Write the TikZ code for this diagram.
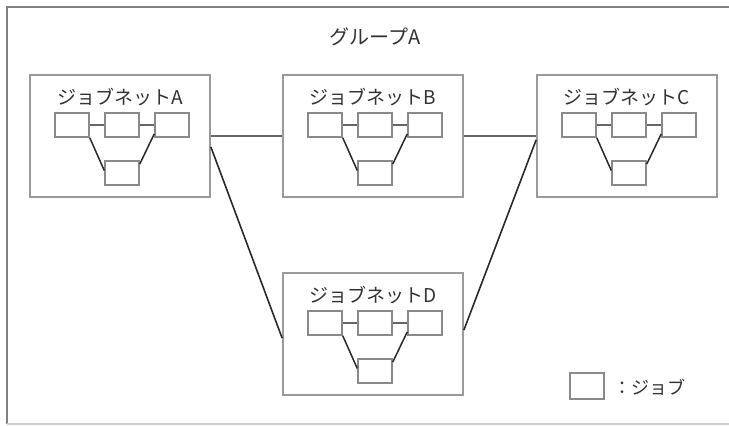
\documentclass[tikz,border=0pt]{standalone}
\usepackage{fontspec}
\setmainfont{Noto Sans CJK JP}
\usetikzlibrary{calc}
\definecolor{txt}{HTML}{333333}
\definecolor{framegray}{HTML}{808080}
\definecolor{boxgray}{HTML}{9A9A9A}
\definecolor{jobgray}{HTML}{8A8A8A}
\definecolor{linedark}{HTML}{2A2A2A}
\tikzset{
  netbox/.style={draw=boxgray, line width=1.8pt, minimum width=180pt, minimum height=122pt, inner sep=0pt},
  jobbox/.style={draw=jobgray, line width=1.5pt, minimum width=34pt, minimum height=24pt, inner sep=0pt, fill=white},
  nettitle/.style={text=txt, font=\fontsize{19}{21}\selectfont, inner sep=0pt},
  joblink/.style={draw=linedark, line width=1.5pt},
  netlink/.style={draw=linedark, line width=1.6pt},
  hlink/.style={draw=framegray!80!black, line width=2.2pt},
}
\newcommand{\drawjobnet}[4]{%
  \begin{scope}[shift={(#2,#3)}]
    \node[netbox] (#1) at (90,61) {};
    \node[nettitle] (#1t) at (90,22) {ジョブネット#4};
    \node[jobbox] (#1j1) at (42,50) {};
    \node[jobbox] (#1j2) at (92,50) {};
    \node[jobbox] (#1j3) at (142,50) {};
    \node[jobbox] (#1j4) at (92,98) {};
    \draw[hlink] (#1j1.east) -- (#1j2.west);
    \draw[hlink] (#1j2.east) -- (#1j3.west);
    \draw[joblink] (#1j1.south east) -- ($(#1j4.north west)!0.4!(#1j4.south west)$);
    \draw[joblink] ($(#1j3.north west)!0.85!(#1j3.south west)$) -- ($(#1j4.north east)!0.15!(#1j4.south east)$);
  \end{scope}%
}
\begin{document}
\begin{tikzpicture}[x=1pt,y=-1pt]
  \useasboundingbox (0,0) rectangle (729,426);
  \fill[white] (0,0) rectangle (729,426);
  % outer group frame
  \coordinate (ftr) at (729,7);
  \coordinate (ftl) at (7,7);
  \coordinate (fbl) at (7,424);
  \coordinate (fbr) at (729,424);
  \draw[framegray, line width=2.5pt] (ftr) -- (ftl) -- (fbl);
  \draw[black!20, line width=1.5pt] (fbl) -- (fbr);
  \node[text=txt, font=\fontsize{20}{22}\selectfont, inner sep=0pt] (group) at (375,37) {グループA};
  \drawjobnet{A}{30}{75}{A}
  \drawjobnet{B}{283}{75}{B}
  \drawjobnet{C}{537}{75}{C}
  \drawjobnet{D}{283}{273}{D}
  % links between jobnets
  \draw[hlink] (A.east) -- (B.west);
  \draw[hlink] (B.east) -- (C.west);
  \draw[netlink] ($(A.east)+(0,11)$) -- ($(D.west)+(0,4)$);
  \draw[netlink] ($(C.west)+(0,4)$) -- ($(D.east)+(0,-4)$);
  % legend
  \node[jobbox, minimum height=26pt] (legjob) at (587,386) {};
  \node[text=txt, font=\fontsize{18}{20}\selectfont, inner sep=0pt, anchor=west] (legtxt) at (613,387) {：ジョブ};
\end{tikzpicture}
\end{document}
